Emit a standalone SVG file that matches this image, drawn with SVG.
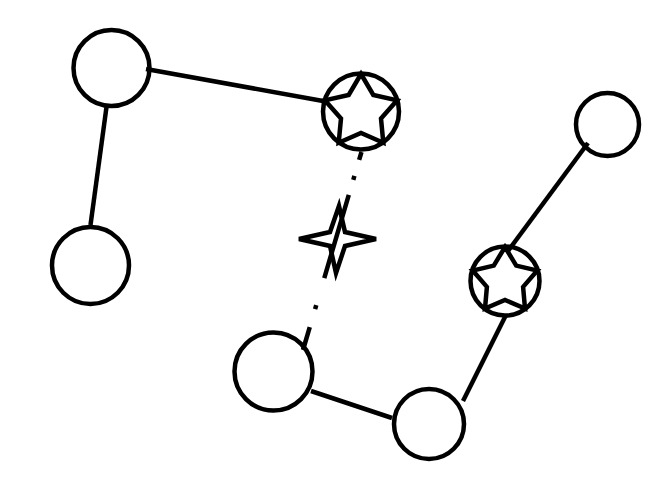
<svg xmlns="http://www.w3.org/2000/svg" width="666" height="477" viewBox="0 0 666 477">
  <style>
    .node { fill: none; stroke: #000; stroke-width: 4.5; }
    .edge { fill: none; stroke: #000; stroke-width: 4.5; stroke-linecap: butt; }
    .mark { fill: none; stroke: #000; stroke-width: 4.5; stroke-linejoin: miter; }
  </style>
  <rect width="666" height="477" fill="#fff"/>
  <g id="connectors">
    <line class="edge" x1="106.5" y1="107" x2="90.5" y2="225"/>
    <line class="edge" x1="146" y1="69" x2="323" y2="101"/>
    <line class="edge" x1="361.5" y1="152" x2="303" y2="350" stroke-dasharray="8.3 16.7 4 15.8 86.6 28.2 4.2 18.8 40"/>
    <line class="edge" x1="311" y1="391" x2="392" y2="418"/>
    <line class="edge" x1="463" y1="401" x2="506" y2="315"/>
    <line class="edge" x1="508" y1="251" x2="588" y2="143"/>
    <path class="mark" d="M339,206 L345,232 L376,239 L345,246 L336,273 L330,246 L299,239 L330,232 Z"/>
  </g>
  <g id="nodeA"><circle class="node" cx="111.5" cy="68" r="38"/></g>
  <g id="nodeB"><circle class="node" cx="90.5" cy="265.5" r="38.5"/></g>
  <g id="nodeC">
    <circle class="node" cx="361" cy="111.5" r="38"/>
    <polygon class="mark" points="361,74 373.3,95 397.1,100.3 381,118.5 383.3,142.7 361,133 338.7,142.7 341,118.5 324.9,100.3 348.7,95"/>
  </g>
  <g id="nodeD"><circle class="node" cx="607.5" cy="124.5" r="31.5"/></g>
  <g id="nodeE">
    <circle class="node" cx="505" cy="281" r="34.5"/>
    <polygon class="mark" points="505,247 516.2,265.6 537.3,270.5 523.1,286.9 525,308.5 505,300 485,308.5 486.9,286.9 472.7,270.5 493.8,265.6"/>
  </g>
  <g id="nodeF"><circle class="node" cx="273.5" cy="371.5" r="39"/></g>
  <g id="nodeG"><circle class="node" cx="429" cy="424" r="35"/></g>
</svg>
